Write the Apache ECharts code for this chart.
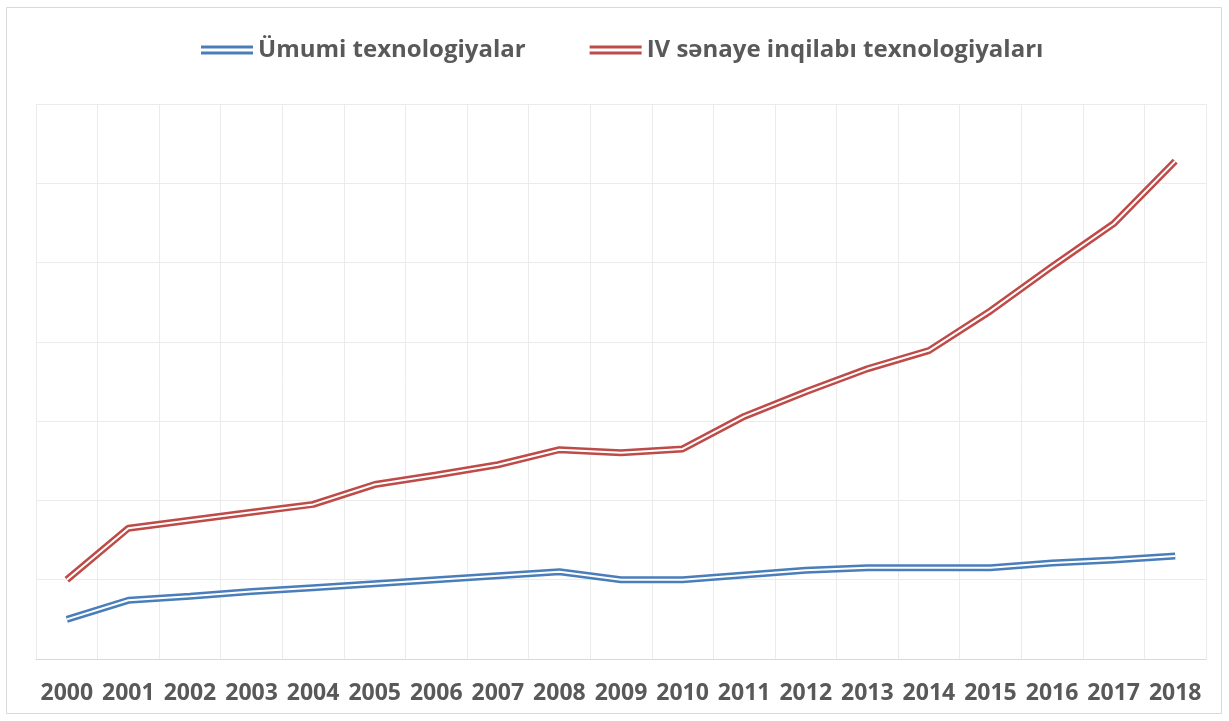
<!DOCTYPE html>
<html>
<head>
<meta charset="utf-8">
<script src="https://cdn.jsdelivr.net/npm/echarts@6/dist/echarts.min.js"></script>
<style>
html,body{margin:0;padding:0;background:#fff;}
#c{width:1229px;height:721px;}
</style>
</head>
<body>
<div id="c"></div>
<script>
const years = ['2000','2001','2002','2003','2004','2005','2006','2007','2008','2009','2010','2011','2012','2013','2014','2015','2016','2017','2018'];
const generalTech = [0.50,0.74,0.79,0.85,0.90,0.95,1.00,1.05,1.10,1.00,1.00,1.06,1.12,1.15,1.15,1.15,1.21,1.25,1.30];
const industry4Tech = [1.00,1.65,1.75,1.85,1.95,2.20,2.32,2.45,2.64,2.60,2.65,3.06,3.37,3.66,3.89,4.39,4.95,5.49,6.28];
const seriesNames = ['Ümumi texnologiyalar','IV sənaye inqilabı texnologiyaları'];
const colors = ['#4a7ebb','#be4b48'];

const chart = echarts.init(document.getElementById('c'), null, {renderer:'canvas'});
const iconPath = 'path://M0,0H52V3H0Z M0,6H52V9H0Z';
const font = '"Open Sans", sans-serif';
function pair(name, data, color){
  return [
    {name:name, type:'line', data:data, symbol:'none', z:2,
     lineStyle:{color:color, width:7}, itemStyle:{color:color}},
    {name:name+'_inner', type:'line', data:data, symbol:'none', z:3, silent:true,
     lineStyle:{color:'#ffffff', width:2}, itemStyle:{color:'#ffffff'}}
  ];
}
chart.setOption({
  animation:false,
  backgroundColor:'#ffffff',
  graphic:[{type:'rect', shape:{x:6.5,y:7.5,width:1215,height:706}, style:{fill:'none', stroke:'#d9d9d9', lineWidth:1}, z:-1}],
  legend:{
    data:seriesNames.map(n=>({name:n, icon:iconPath})),
    top:33, left:196, itemWidth:52, itemHeight:9, itemGap:64,
    textStyle:{fontFamily:font, fontWeight:'bold', fontSize:24, color:'#595959'}
  },
  grid:{left:36, right:23, top:104, bottom:62, containLabel:false},
  xAxis:{
    type:'category', data:years, boundaryGap:true,
    axisLine:{show:true, lineStyle:{color:'#d9d9d9', width:1}},
    axisTick:{show:false},
    axisLabel:{fontFamily:font, fontWeight:'bold', fontSize:23, color:'#595959', margin:23, interval:0},
    splitLine:{show:true, lineStyle:{color:'#ebebeb', width:1}}
  },
  yAxis:{
    type:'value', min:0, max:7, interval:1,
    axisLine:{show:false}, axisTick:{show:false}, axisLabel:{show:false},
    splitLine:{show:true, lineStyle:{color:'#ebebeb', width:1}}
  },
  series:[...pair(seriesNames[0], generalTech, colors[0]), ...pair(seriesNames[1], industry4Tech, colors[1])]
});
</script>
</body>
</html>
